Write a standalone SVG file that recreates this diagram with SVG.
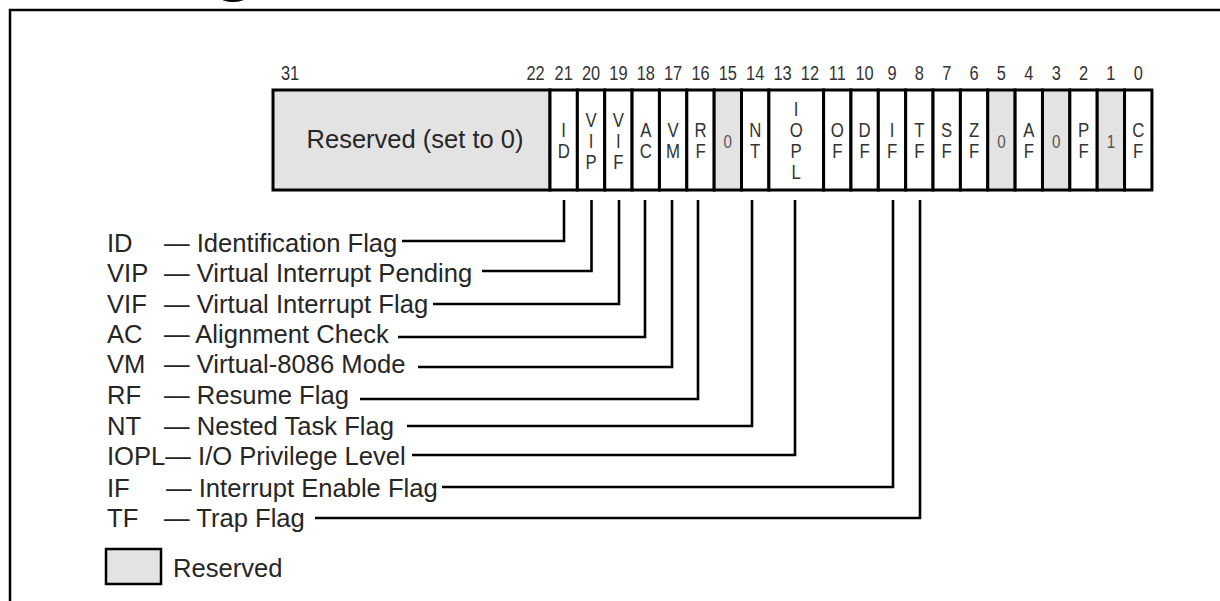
<svg xmlns="http://www.w3.org/2000/svg" width="1220" height="601" viewBox="0 0 1220 601">
<style>
.bg{fill:#ffffff}
.frame{fill:none;stroke:#000;stroke-width:2.5}
.cell{fill:#ffffff;stroke:#000;stroke-width:3}
.res{fill:#e3e3e3;stroke:#000;stroke-width:3}
.cl{font-family:"Liberation Sans",Arial,sans-serif;font-size:21px;fill:#333;text-anchor:middle}
.cz{font-family:"Liberation Sans",Arial,sans-serif;font-size:19px;fill:#555;text-anchor:middle}
.bn{font-family:"Liberation Sans",Arial,sans-serif;font-size:20.5px;fill:#333;text-anchor:middle}
.lg{font-family:"Liberation Sans",Arial,sans-serif;font-size:25.6px;fill:#262626}
.big{font-family:"Liberation Sans",Arial,sans-serif;font-size:25.5px;fill:#262626;text-anchor:middle}
.con{fill:none;stroke:#000;stroke-width:2.6}
</style>
<rect class="bg" x="0" y="0" width="1220" height="601"/>
<ellipse cx="233" cy="-2" rx="12" ry="4" fill="#000"/>
<path class="frame" d="M10 601 V10 H1220"/>

<g id="bit-numbers">
<text class="bn" transform="translate(290.1 80) scale(0.8 1)">31</text>
<text class="bn" transform="translate(535.5 80) scale(0.8 1)">22</text>
<text class="bn" transform="translate(563.7 80) scale(0.8 1)">21</text>
<text class="bn" transform="translate(591.0 80) scale(0.8 1)">20</text>
<text class="bn" transform="translate(618.4 80) scale(0.8 1)">19</text>
<text class="bn" transform="translate(645.8 80) scale(0.8 1)">18</text>
<text class="bn" transform="translate(673.1 80) scale(0.8 1)">17</text>
<text class="bn" transform="translate(700.5 80) scale(0.8 1)">16</text>
<text class="bn" transform="translate(727.8 80) scale(0.8 1)">15</text>
<text class="bn" transform="translate(755.2 80) scale(0.8 1)">14</text>
<text class="bn" transform="translate(782.6 80) scale(0.8 1)">13</text>
<text class="bn" transform="translate(809.9 80) scale(0.8 1)">12</text>
<text class="bn" transform="translate(837.3 80) scale(0.8 1)">11</text>
<text class="bn" transform="translate(864.6 80) scale(0.8 1)">10</text>
<text class="bn" transform="translate(892.0 80) scale(0.8 1)">9</text>
<text class="bn" transform="translate(919.4 80) scale(0.8 1)">8</text>
<text class="bn" transform="translate(946.7 80) scale(0.8 1)">7</text>
<text class="bn" transform="translate(974.1 80) scale(0.8 1)">6</text>
<text class="bn" transform="translate(1001.4 80) scale(0.8 1)">5</text>
<text class="bn" transform="translate(1028.8 80) scale(0.8 1)">4</text>
<text class="bn" transform="translate(1056.2 80) scale(0.8 1)">3</text>
<text class="bn" transform="translate(1083.5 80) scale(0.8 1)">2</text>
<text class="bn" transform="translate(1110.9 80) scale(0.8 1)">1</text>
<text class="bn" transform="translate(1138.2 80) scale(0.8 1)">0</text>
</g>

<g id="reserved-31-22"><rect class="res" x="273" y="90" width="277" height="100"/><text class="big" x="415" y="148">Reserved (set to 0)</text></g>
<g id="bit21-ID"><rect class="cell" x="550" y="90" width="27.36" height="100"/><text class="cl" transform="translate(563.7 0) scale(0.8 1)"><tspan x="0" y="137">I</tspan><tspan x="0" y="158">D</tspan></text></g>
<g id="bit20-VIP"><rect class="cell" x="577.36" y="90" width="27.36" height="100"/><text class="cl" transform="translate(591.0 0) scale(0.8 1)"><tspan x="0" y="127">V</tspan><tspan x="0" y="148">I</tspan><tspan x="0" y="169">P</tspan></text></g>
<g id="bit19-VIF"><rect class="cell" x="604.72" y="90" width="27.36" height="100"/><text class="cl" transform="translate(618.4 0) scale(0.8 1)"><tspan x="0" y="127">V</tspan><tspan x="0" y="148">I</tspan><tspan x="0" y="169">F</tspan></text></g>
<g id="bit18-AC"><rect class="cell" x="632.08" y="90" width="27.36" height="100"/><text class="cl" transform="translate(645.8 0) scale(0.8 1)"><tspan x="0" y="137">A</tspan><tspan x="0" y="158">C</tspan></text></g>
<g id="bit17-VM"><rect class="cell" x="659.44" y="90" width="27.36" height="100"/><text class="cl" transform="translate(673.1 0) scale(0.8 1)"><tspan x="0" y="137">V</tspan><tspan x="0" y="158">M</tspan></text></g>
<g id="bit16-RF"><rect class="cell" x="686.8" y="90" width="27.36" height="100"/><text class="cl" transform="translate(700.5 0) scale(0.8 1)"><tspan x="0" y="137">R</tspan><tspan x="0" y="158">F</tspan></text></g>
<g id="bit15-0"><rect class="res" x="714.16" y="90" width="27.36" height="100"/><text class="cz" transform="translate(727.8 148) scale(0.8 1)">0</text></g>
<g id="bit14-NT"><rect class="cell" x="741.52" y="90" width="27.36" height="100"/><text class="cl" transform="translate(755.2 0) scale(0.8 1)"><tspan x="0" y="137">N</tspan><tspan x="0" y="158">T</tspan></text></g>
<g id="bit13-12-IOPL"><rect class="cell" x="768.88" y="90" width="54.72" height="100"/><text class="cl" transform="translate(796.2 0) scale(0.8 1)"><tspan x="0" y="116">I</tspan><tspan x="0" y="137">O</tspan><tspan x="0" y="158">P</tspan><tspan x="0" y="179">L</tspan></text></g>
<g id="bit11-OF"><rect class="cell" x="823.6" y="90" width="27.36" height="100"/><text class="cl" transform="translate(837.3 0) scale(0.8 1)"><tspan x="0" y="137">O</tspan><tspan x="0" y="158">F</tspan></text></g>
<g id="bit10-DF"><rect class="cell" x="850.96" y="90" width="27.36" height="100"/><text class="cl" transform="translate(864.6 0) scale(0.8 1)"><tspan x="0" y="137">D</tspan><tspan x="0" y="158">F</tspan></text></g>
<g id="bit9-IF"><rect class="cell" x="878.32" y="90" width="27.36" height="100"/><text class="cl" transform="translate(892.0 0) scale(0.8 1)"><tspan x="0" y="137">I</tspan><tspan x="0" y="158">F</tspan></text></g>
<g id="bit8-TF"><rect class="cell" x="905.68" y="90" width="27.36" height="100"/><text class="cl" transform="translate(919.4 0) scale(0.8 1)"><tspan x="0" y="137">T</tspan><tspan x="0" y="158">F</tspan></text></g>
<g id="bit7-SF"><rect class="cell" x="933.04" y="90" width="27.36" height="100"/><text class="cl" transform="translate(946.7 0) scale(0.8 1)"><tspan x="0" y="137">S</tspan><tspan x="0" y="158">F</tspan></text></g>
<g id="bit6-ZF"><rect class="cell" x="960.4" y="90" width="27.36" height="100"/><text class="cl" transform="translate(974.1 0) scale(0.8 1)"><tspan x="0" y="137">Z</tspan><tspan x="0" y="158">F</tspan></text></g>
<g id="bit5-0"><rect class="res" x="987.76" y="90" width="27.36" height="100"/><text class="cz" transform="translate(1001.4 148) scale(0.8 1)">0</text></g>
<g id="bit4-AF"><rect class="cell" x="1015.12" y="90" width="27.36" height="100"/><text class="cl" transform="translate(1028.8 0) scale(0.8 1)"><tspan x="0" y="137">A</tspan><tspan x="0" y="158">F</tspan></text></g>
<g id="bit3-0"><rect class="res" x="1042.48" y="90" width="27.36" height="100"/><text class="cz" transform="translate(1056.2 148) scale(0.8 1)">0</text></g>
<g id="bit2-PF"><rect class="cell" x="1069.84" y="90" width="27.36" height="100"/><text class="cl" transform="translate(1083.5 0) scale(0.8 1)"><tspan x="0" y="137">P</tspan><tspan x="0" y="158">F</tspan></text></g>
<g id="bit1-1"><rect class="res" x="1097.2" y="90" width="27.36" height="100"/><text class="cz" transform="translate(1110.9 148) scale(0.8 1)">1</text></g>
<g id="bit0-CF"><rect class="cell" x="1124.56" y="90" width="27.36" height="100"/><text class="cl" transform="translate(1138.2 0) scale(0.8 1)"><tspan x="0" y="137">C</tspan><tspan x="0" y="158">F</tspan></text></g>

<g id="legend-ID"><text class="lg" x="107" y="252">ID</text><text class="lg" x="164" y="252">— Identification Flag</text></g>
<g id="legend-VIP"><text class="lg" x="107" y="282">VIP</text><text class="lg" x="164" y="282">— Virtual Interrupt Pending</text></g>
<g id="legend-VIF"><text class="lg" x="107" y="313">VIF</text><text class="lg" x="164" y="313">— Virtual Interrupt Flag</text></g>
<g id="legend-AC"><text class="lg" x="107" y="343">AC</text><text class="lg" x="164" y="343">— Alignment Check</text></g>
<g id="legend-VM"><text class="lg" x="107" y="373">VM</text><text class="lg" x="164" y="373">— Virtual-8086 Mode</text></g>
<g id="legend-RF"><text class="lg" x="107" y="404">RF</text><text class="lg" x="164" y="404">— Resume Flag</text></g>
<g id="legend-NT"><text class="lg" x="107" y="435">NT</text><text class="lg" x="164" y="435">— Nested Task Flag</text></g>
<g id="legend-IOPL"><text class="lg" x="107" y="465">IOPL— I/O Privilege Level</text></g>
<g id="legend-IF"><text class="lg" x="107" y="497">IF</text><text class="lg" x="166" y="497">— Interrupt Enable Flag</text></g>
<g id="legend-TF"><text class="lg" x="107" y="527">TF</text><text class="lg" x="164" y="527">— Trap Flag</text></g>

<g id="legend-reserved"><rect x="106" y="549" width="55" height="35" fill="#e3e3e3" stroke="#000" stroke-width="2.5"/><text class="lg" x="173" y="577">Reserved</text></g>

<g id="connectors">
<path class="con" d="M402 241 H564 V200" stroke-width="3"/>
<path class="con" d="M482 271 H591.5 V200" stroke-width="3"/>
<path class="con" d="M433 304 H619 V200" stroke-width="2.2"/>
<path class="con" d="M398 337 H645 V200" stroke-width="3"/>
<path class="con" d="M418 367 H672 V200"/>
<path class="con" d="M360 399 H698 V200" stroke-width="2.2"/>
<path class="con" d="M407 426 H752 V200" stroke-width="3"/>
<path class="con" d="M412 455 H795 V200"/>
<path class="con" d="M442 487 H893 V200" stroke-width="3"/>
<path class="con" d="M315 518 H920 V200"/>
</g>
</svg>
